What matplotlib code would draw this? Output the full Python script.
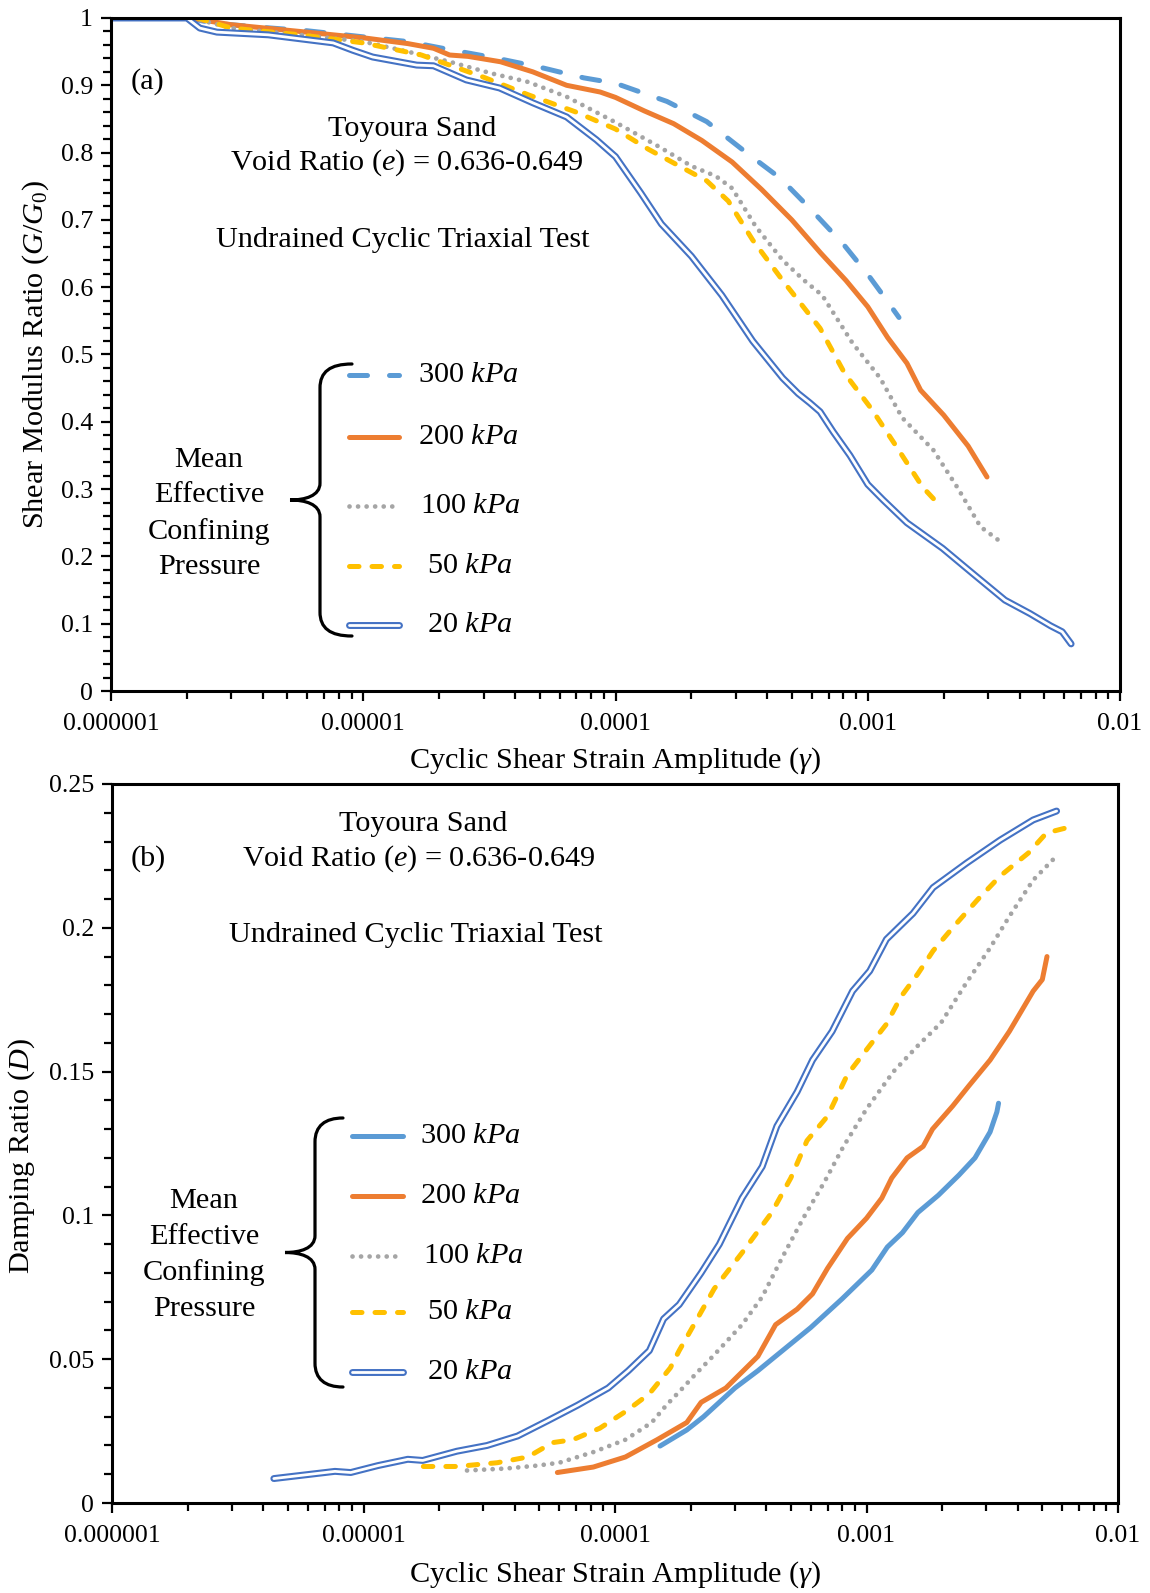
import numpy as np
import matplotlib
matplotlib.use('Agg')
import matplotlib.pyplot as plt
from matplotlib.path import Path
from matplotlib.patches import PathPatch
from matplotlib.transforms import Affine2D
from matplotlib.ticker import MultipleLocator, FuncFormatter, LogLocator, NullFormatter

plt.rcParams['font.family'] = ['Liberation Serif', 'DejaVu Serif']
plt.rcParams['mathtext.fontset'] = 'custom'
plt.rcParams['mathtext.rm'] = 'Liberation Serif'
plt.rcParams['mathtext.it'] = 'Liberation Serif:italic'

# --- G/G0 curves (strain, modulus ratio) ---
g300_x = [2.0e-6, 2.6e-6, 4e-6, 6e-6, 1e-5, 1.5e-5, 2.2e-5, 3.3e-5, 5e-5, 7.5e-5, 1e-4,
          1.6e-4, 2.3e-4, 3.3e-4, 4.5e-4, 5.9e-4, 8e-4, 1e-3, 1.15e-3, 1.33e-3]
g300_y = [1.0, 0.992, 0.986, 0.981, 0.972, 0.965, 0.953, 0.941, 0.927, 0.911, 0.903,
          0.876, 0.846, 0.800, 0.762, 0.717, 0.664, 0.619, 0.588, 0.555]

g200_x = [2.06e-6, 3e-6, 5.6e-6, 1.03e-5, 1.5e-5, 1.9e-5, 2.2e-5, 2.6e-5, 3.5e-5, 4.7e-5,
          6.4e-5, 8.7e-5, 1.0e-4, 1.3e-4, 1.7e-4, 2.2e-4, 2.9e-4, 3.8e-4, 5.0e-4, 6.5e-4,
          8.2e-4, 1.0e-3, 1.2e-3, 1.43e-3, 1.62e-3, 2.0e-3, 2.5e-3, 2.97e-3]
g200_y = [1.0, 0.99, 0.98, 0.97, 0.962, 0.955, 0.945, 0.943, 0.935, 0.92,
          0.90, 0.89, 0.882, 0.862, 0.843, 0.818, 0.786, 0.745, 0.70, 0.651,
          0.61, 0.571, 0.525, 0.487, 0.447, 0.41, 0.364, 0.318]

g100_x = [2.1e-6, 3e-6, 5.6e-6, 1e-5, 1.5e-5, 2.2e-5, 3.2e-5, 4.5e-5, 6.4e-5, 1e-4,
          1.5e-4, 2.0e-4, 2.5e-4, 2.9e-4, 3.6e-4, 4.6e-4, 5.6e-4, 6.6e-4, 8.7e-4, 1.12e-3,
          1.37e-3, 1.82e-3, 2.27e-3, 2.8e-3, 3.3e-3]
g100_y = [1.0, 0.985, 0.975, 0.965, 0.95, 0.935, 0.918, 0.905, 0.883, 0.845,
          0.808, 0.78, 0.765, 0.747, 0.69, 0.64, 0.61, 0.588, 0.517, 0.465,
          0.406, 0.358, 0.302, 0.244, 0.224]

g50_x = [2.2e-6, 3e-6, 5.6e-6, 1e-5, 1.7e-5, 3e-5, 4.5e-5, 7e-5, 1e-4, 1.35e-4, 1.75e-4,
         2.3e-4, 2.8e-4, 3.5e-4, 4.6e-4, 6.47e-4, 8.1e-4, 1.04e-3, 1.3e-3, 1.65e-3, 1.84e-3]
g50_y = [1.0, 0.985, 0.975, 0.963, 0.945, 0.912, 0.886, 0.86, 0.835, 0.805, 0.782,
         0.758, 0.728, 0.67, 0.61, 0.539, 0.472, 0.418, 0.363, 0.303, 0.284]

g20_x = [1e-6, 2.0e-6, 2.25e-6, 2.63e-6, 4.2e-6, 7.6e-6, 9.1e-6, 1.09e-5, 1.63e-5, 1.9e-5,
         2.56e-5, 3.47e-5, 4.7e-5, 6.4e-5, 8.4e-5, 1e-4, 1.26e-4, 1.52e-4, 2.0e-4, 2.64e-4,
         3.5e-4, 4.6e-4, 5.3e-4, 5.9e-4, 6.47e-4, 7.3e-4, 8.5e-4, 1.0e-3, 1.15e-3, 1.43e-3,
         1.98e-3, 2.6e-3, 3.5e-3, 4.4e-3, 5.3e-3, 5.9e-3, 6.4e-3]
g20_y = [1.0, 1.0, 0.985, 0.979, 0.975, 0.963, 0.952, 0.942, 0.93, 0.929,
         0.908, 0.896, 0.874, 0.853, 0.819, 0.794, 0.740, 0.694, 0.646, 0.588,
         0.520, 0.465, 0.442, 0.428, 0.415, 0.385, 0.350, 0.307, 0.284, 0.250,
         0.212, 0.175, 0.135, 0.115, 0.097, 0.088, 0.070]

# --- damping curves (strain, damping ratio) ---
d300_x = [1.51e-4, 1.93e-4, 2.25e-4, 3.0e-4, 3.7e-4, 6.0e-4, 8.0e-4, 1.05e-3, 1.21e-3,
          1.39e-3, 1.6e-3, 1.93e-3, 2.33e-3, 2.7e-3, 3.1e-3, 3.3e-3, 3.35e-3]
d300_y = [0.0198, 0.0254, 0.030, 0.040, 0.046, 0.061, 0.071, 0.081, 0.089,
          0.094, 0.101, 0.107, 0.114, 0.120, 0.129, 0.136, 0.139]

d200_x = [5.9e-5, 8.2e-5, 1.1e-4, 1.47e-4, 1.93e-4, 2.2e-4, 2.76e-4, 3.7e-4, 4.35e-4,
          5.3e-4, 6.1e-4, 7.0e-4, 8.4e-4, 1.0e-3, 1.15e-3, 1.26e-3, 1.45e-3, 1.68e-3,
          1.83e-3, 2.2e-3, 2.55e-3, 3.1e-3, 3.7e-3, 4.6e-3, 5.0e-3, 5.22e-3]
d200_y = [0.0106, 0.0125, 0.016, 0.022, 0.028, 0.035, 0.040, 0.051, 0.062,
          0.0674, 0.0727, 0.0816, 0.092, 0.099, 0.106, 0.113, 0.120, 0.124,
          0.130, 0.138, 0.145, 0.154, 0.164, 0.178, 0.182, 0.190]

d100_x = [2.58e-5, 3.7e-5, 4.9e-5, 6.0e-5, 8.2e-5, 1.1e-4, 1.4e-4, 1.6e-4, 1.86e-4, 2.1e-4,
          2.45e-4, 3.2e-4, 3.85e-4, 4.6e-4, 5.6e-4, 6.8e-4, 8.1e-4, 1.0e-3, 1.28e-3, 1.6e-3,
          1.98e-3, 2.5e-3, 3.1e-3, 3.7e-3, 4.6e-3, 5.7e-3]
d100_y = [0.0113, 0.012, 0.013, 0.014, 0.0177, 0.022, 0.028, 0.034, 0.040, 0.045,
          0.051, 0.062, 0.0717, 0.085, 0.099, 0.1116, 0.124, 0.137, 0.150, 0.159,
          0.167, 0.181, 0.193, 0.204, 0.2166, 0.225]

d50_x = [1.73e-5, 2.35e-5, 3.4e-5, 4.5e-5, 5.65e-5, 6.8e-5, 8.7e-5, 1.11e-4, 1.37e-4, 1.66e-4,
         1.8e-4, 2.06e-4, 2.48e-4, 3.2e-4, 4.2e-4, 5.0e-4, 5.8e-4, 7.0e-4, 8.4e-4, 1.05e-3,
         1.2e-3, 1.37e-3, 1.6e-3, 1.84e-3, 2.2e-3, 2.76e-3, 3.4e-3, 4.4e-3, 5.2e-3, 6.2e-3]
d50_y = [0.0127, 0.0127, 0.014, 0.016, 0.021, 0.022, 0.026, 0.032, 0.038, 0.047,
         0.053, 0.062, 0.0745, 0.087, 0.101, 0.113, 0.126, 0.1345, 0.149, 0.160,
         0.1665, 0.176, 0.184, 0.192, 0.200, 0.2097, 0.218, 0.226, 0.233, 0.2347]

d20_x = [4.4e-6, 7.7e-6, 8.9e-6, 1.14e-5, 1.5e-5, 1.72e-5, 2.35e-5, 3.1e-5, 4.1e-5, 5.4e-5,
         7.1e-5, 9.4e-5, 1.13e-4, 1.37e-4, 1.56e-4, 1.8e-4, 2.2e-4, 2.6e-4, 3.2e-4, 3.85e-4,
         4.4e-4, 5.3e-4, 6.1e-4, 7.3e-4, 8.8e-4, 1.03e-3, 1.2e-3, 1.53e-3, 1.84e-3, 2.5e-3,
         3.4e-3, 4.6e-3, 5.7e-3]
d20_y = [0.0085, 0.011, 0.0106, 0.013, 0.0152, 0.0148, 0.018, 0.020, 0.0233, 0.0286,
         0.034, 0.040, 0.046, 0.053, 0.064, 0.069, 0.080, 0.090, 0.106, 0.117,
         0.131, 0.143, 0.154, 0.164, 0.178, 0.185, 0.196, 0.205, 0.214, 0.2225,
         0.2305, 0.2375, 0.2406]

pressures = ['300', '200', '100', '50', '20']
group_label = ['Mean', 'Effective', 'Confining', 'Pressure']

BLUE_LT = '#5B9BD5'
ORANGE = '#ED7D31'
GRAY = '#A5A5A5'
YELLOW = '#FFC000'
BLUE_DK = '#4472C4'

W, H = 1150, 1593
fig = plt.figure(figsize=(W / 100, H / 100), dpi=100)
# pixel coordinates measured from the top-left corner of the figure
pix = Affine2D().scale(1 / W, -1 / H).translate(0, 1) + fig.transFigure

ax1 = fig.add_axes([111 / W, 1 - 691 / H, 1009 / W, 673 / H])
ax2 = fig.add_axes([112 / W, 1 - 1503 / H, 1006 / W, 719 / H])

FS = 21.8
TICK_FS = 18.6


def style(key, solid300=False):
    if key == '300':
        if solid300:
            return [dict(color=BLUE_LT, lw=3.6, solid_capstyle='round')]
        return [dict(color=BLUE_LT, lw=3.6, dashes=(3.6, 4.4), dash_capstyle='round')]
    if key == '200':
        return [dict(color=ORANGE, lw=3.6, solid_capstyle='round')]
    if key == '100':
        return [dict(color=GRAY, lw=3.4, dashes=(0.01, 1.8), dash_capstyle='round')]
    if key == '50':
        return [dict(color=YELLOW, lw=3.6, dashes=(1.9, 2.6), dash_capstyle='round')]
    return [dict(color=BLUE_DK, lw=5.0, solid_capstyle='round'),
            dict(color='white', lw=2.0, solid_capstyle='round')]


def draw(ax, key, x, y, solid300=False):
    for kw in style(key, solid300):
        ax.plot(x, y, **kw)


def brace(x_end, x_spine, x_tip, y_top, y_bot):
    y_mid = (y_top + y_bot) / 2
    verts = [(x_end, y_top),
             (x_spine + 10, y_top), (x_spine, y_top + 8), (x_spine, y_top + 24),
             (x_spine, y_mid - 17),
             (x_spine, y_mid - 4), (x_tip + 15, y_mid), (x_tip, y_mid),
             (x_tip + 15, y_mid), (x_spine, y_mid + 4), (x_spine, y_mid + 17),
             (x_spine, y_bot - 24),
             (x_spine, y_bot - 8), (x_spine + 10, y_bot), (x_end, y_bot)]
    codes = [Path.MOVETO, Path.CURVE4, Path.CURVE4, Path.CURVE4, Path.LINETO,
             Path.CURVE4, Path.CURVE4, Path.CURVE4, Path.CURVE4, Path.CURVE4, Path.CURVE4,
             Path.LINETO, Path.CURVE4, Path.CURVE4, Path.CURVE4]
    fig.add_artist(PathPatch(Path(verts, codes), transform=pix, fill=False,
                             lw=2.3, edgecolor='black', capstyle='round'))


def legend_block(keys, line_x0, line_x1, rows_y, text_x, solid300, group_y, group_x):
    for key, yy, tx in zip(keys, rows_y, text_x):
        for kw in style(key, solid300):
            fig.add_artist(plt.Line2D([line_x0, line_x1], [yy, yy], transform=pix, **kw))
        fig.text(tx, yy, key + r' $kPa$', transform=pix, fontsize=FS,
                 ha='left', va='center')
    for word, gy in zip(group_label, group_y):
        fig.text(group_x, gy, word, transform=pix, fontsize=FS, ha='center', va='center')


def fmt_axes(ax, ymax, ymajor, yminor):
    ax.set_xscale('log')
    ax.set_xlim(1e-6, 1e-2)
    ax.set_ylim(0, ymax)
    ax.xaxis.set_major_locator(LogLocator(base=10, numticks=10))
    ax.xaxis.set_minor_locator(LogLocator(base=10, subs=np.arange(2, 10), numticks=20))
    ax.xaxis.set_minor_formatter(NullFormatter())
    ax.xaxis.set_major_formatter(FuncFormatter(
        lambda v, p: np.format_float_positional(v, trim='-')))
    ax.yaxis.set_major_locator(MultipleLocator(ymajor))
    ax.yaxis.set_minor_locator(MultipleLocator(yminor))
    ax.yaxis.set_major_formatter(FuncFormatter(lambda v, p: '%g' % round(v, 4)))
    for s in ax.spines.values():
        s.set_linewidth(2.2)
    ax.tick_params(which='both', direction='out', width=1.6, labelsize=TICK_FS)
    ax.tick_params(which='major', length=7, pad=6)
    ax.tick_params(which='minor', length=6)
    ax.tick_params(axis='x', which='major', pad=9)
    ax.set_xlabel(r'Cyclic Shear Strain Amplitude ($\gamma$)', fontsize=FS, va='center')


# ---- (a) modulus reduction ----
draw(ax1, '300', g300_x, g300_y)
draw(ax1, '200', g200_x, g200_y)
draw(ax1, '100', g100_x, g100_y)
draw(ax1, '50', g50_x, g50_y)
draw(ax1, '20', g20_x, g20_y)
fmt_axes(ax1, 1.0, 0.1, 0.02)
ax1.set_ylabel(r'Shear Modulus Ratio ($G/G_0$)', fontsize=FS, va='center')
ax1.yaxis.set_label_coords(-0.0743, 0.5)
ax1.xaxis.set_label_coords(0.5, -0.103)

fig.text(148, 82, '(a)', transform=pix, fontsize=FS, ha='center', va='center')
fig.text(412, 129, 'Toyoura Sand', transform=pix, fontsize=FS, ha='center', va='center')
fig.text(407, 163, r'Void Ratio ($e$) = 0.636-0.649', transform=pix, fontsize=FS,
         ha='center', va='center')
fig.text(403, 240, 'Undrained Cyclic Triaxial Test', transform=pix, fontsize=FS,
         ha='center', va='center')
brace(352, 320, 290, 364, 636)
legend_block(pressures, 349, 399, [375, 437, 506, 566, 625],
             [418, 418, 420, 427, 427], False, [460, 495, 532, 567], 209)

# ---- (b) damping ----
draw(ax2, '300', d300_x, d300_y, solid300=True)
draw(ax2, '200', d200_x, d200_y)
draw(ax2, '100', d100_x, d100_y)
draw(ax2, '50', d50_x, d50_y)
draw(ax2, '20', d20_x, d20_y)
fmt_axes(ax2, 0.25, 0.05, 0.01)
ax2.set_ylabel(r'Damping Ratio ($D$)', fontsize=FS, va='center')
ax2.yaxis.set_label_coords(-0.0895, 0.483)
ax2.xaxis.set_label_coords(0.5, -0.1)

fig.text(148, 859, '(b)', transform=pix, fontsize=FS, ha='center', va='center')
fig.text(423, 824, 'Toyoura Sand', transform=pix, fontsize=FS, ha='center', va='center')
fig.text(419, 859, r'Void Ratio ($e$) = 0.636-0.649', transform=pix, fontsize=FS,
         ha='center', va='center')
fig.text(416, 935, 'Undrained Cyclic Triaxial Test', transform=pix, fontsize=FS,
         ha='center', va='center')
brace(343, 315, 285, 1118, 1387)
legend_block(pressures, 352, 403, [1136, 1196, 1256, 1312, 1372],
             [420, 420, 423, 427, 427], True, [1201, 1237, 1273, 1309], 204)

fig.savefig('out.png', dpi=100)
